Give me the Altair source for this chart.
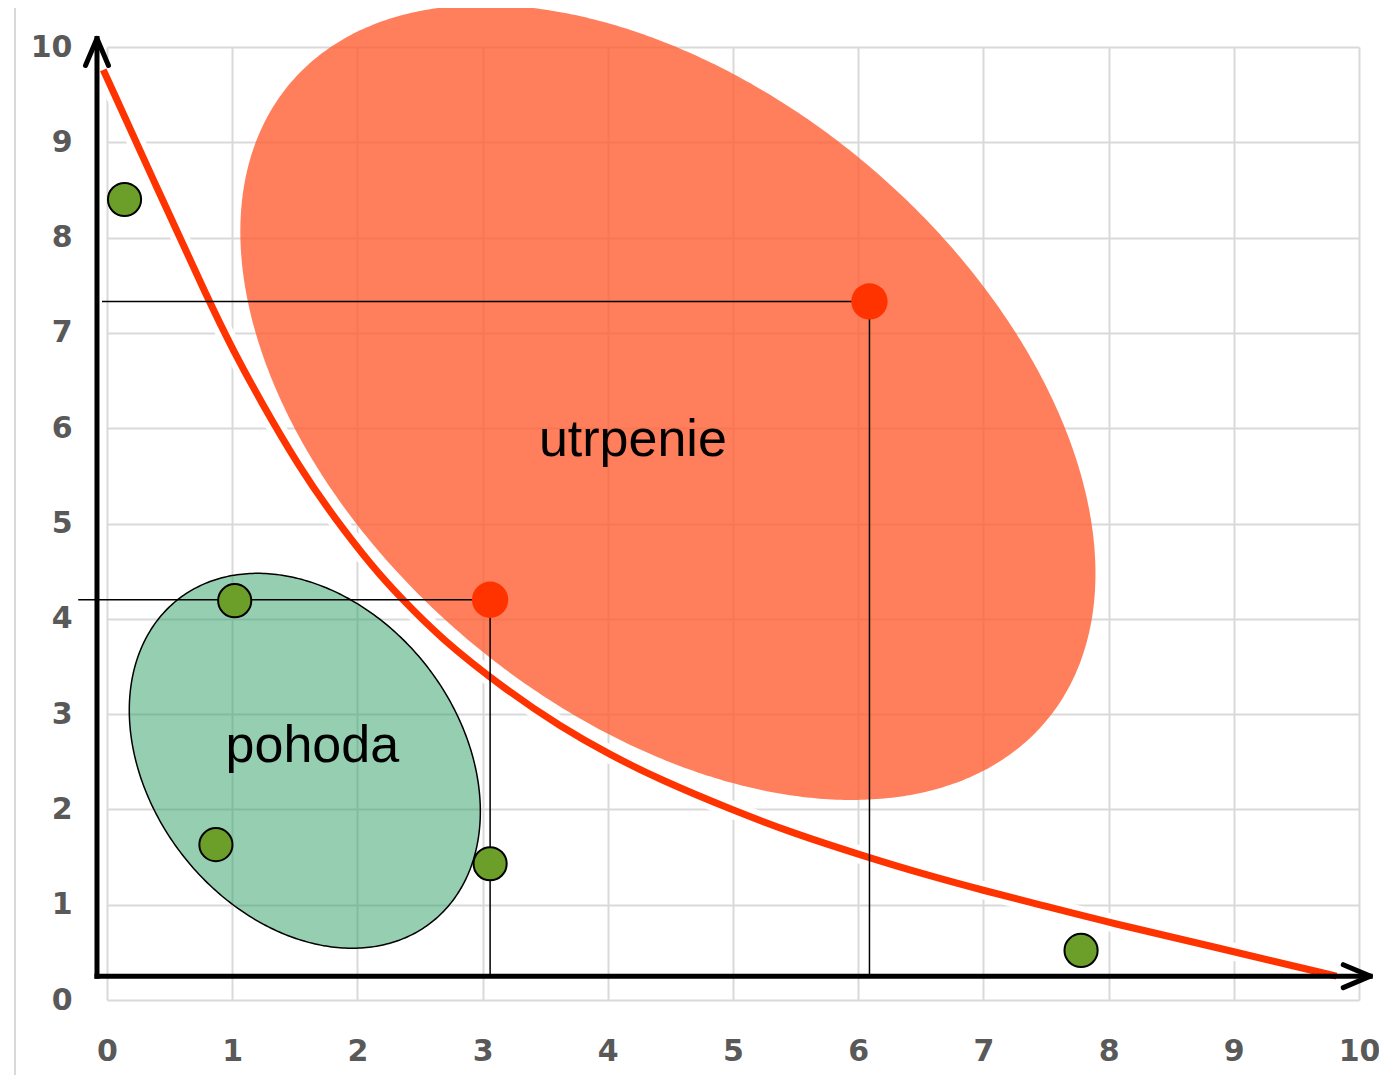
import numpy as np
import pandas as pd
import altair as alt

# ---------------- data ----------------
tick_values = list(range(0, 11))

# red curve
curve_x = [-0.03, 0.40, 0.815, 1.01, 1.22, 1.54, 1.81, 2.13, 2.34, 2.66, 3.19, 3.62,
           4.02, 4.42, 5.00, 5.48, 6.07, 6.55, 7.00, 7.45, 8.01, 8.93, 9.82]
curve_y = [9.76, 8.52, 7.33, 6.81, 6.30, 5.58, 5.07, 4.53, 4.23, 3.80, 3.25, 2.87,
           2.57, 2.31, 1.99, 1.75, 1.50, 1.31, 1.15, 1.00, 0.81, 0.53, 0.25]

# green points
green_x = [0.14, 1.02, 0.87, 3.06, 7.78]
green_y = [8.40, 4.19, 1.63, 1.43, 0.52]

# red points
red_x = [3.06, 6.09]
red_y = [4.20, 7.33]

# thin guide lines (horizontal start x, and they drop to the drawn x-axis)
guide_left_x = [-0.23, -0.04]

# drawn black axes (arrows)
axis_x0 = -0.08
axis_y0 = 0.25
axis_tip = 10.09

# ellipses: centre, half-extent in x, half-extent in y, x-offset (fraction) of topmost point
ell_name = ["utrpenie", "pohoda"]
ell_cx = [4.48, 1.58]
ell_cy = [6.27, 2.51]
ell_rx = [3.415, 1.402]
ell_ry = [4.171, 1.967]
ell_top = [-0.43, -0.27]

# region labels
label_text = ["utrpenie", "pohoda"]
label_x = [4.20, 1.64]
label_y = [5.71, 2.50]

# faint frame of the original picture
frame_x = -0.735
frame_top = 10.43
frame_bottom = -0.95
frame_right = 10.6

# ---------------- build tables ----------------
def ellipse_band(i, n=300):
    phi = np.arccos(ell_top[i])
    t = np.linspace(0, np.pi, n)
    return pd.DataFrame({
        "x": ell_cx[i] + ell_rx[i] * np.cos(t),
        "y1": ell_cy[i] + ell_ry[i] * np.cos(t - phi),
        "y2": ell_cy[i] + ell_ry[i] * np.cos(t + phi),
    })

def ellipse_outline(i, n=400):
    phi = np.arccos(ell_top[i])
    t = np.linspace(0, 2 * np.pi, n)
    return pd.DataFrame({
        "x": ell_cx[i] + ell_rx[i] * np.cos(t),
        "y": ell_cy[i] + ell_ry[i] * np.cos(t - phi),
        "o": np.arange(n),
    })

curve_df = pd.DataFrame({"x": curve_x, "y": curve_y})
green_df = pd.DataFrame({"x": green_x, "y": green_y})
red_df = pd.DataFrame({"x": red_x, "y": red_y})
hguide_df = pd.DataFrame({"x": guide_left_x, "x2": red_x, "y": red_y})
vguide_df = pd.DataFrame({"x": red_x, "y": red_y, "y2": [axis_y0] * len(red_x)})
axis_h_df = pd.DataFrame({"x": [axis_x0], "x2": [axis_tip], "y": [axis_y0]})
axis_v_df = pd.DataFrame({"x": [axis_x0], "y": [axis_y0], "y2": [axis_tip]})
arrow_df = pd.DataFrame({"x": [axis_x0, axis_tip], "y": [axis_tip, axis_y0], "a": [0, 90]})
label_df = pd.DataFrame({"t": label_text, "x": label_x, "y": label_y})
frame_v_df = pd.DataFrame({"x": [frame_x], "y": [frame_bottom], "y2": [frame_top]})
frame_h_df = pd.DataFrame({"x": [frame_x], "x2": [frame_right], "y": [frame_top]})

xscale = alt.Scale(domain=[0, 10], nice=False, zero=False)
yscale = alt.Scale(domain=[0, 10], nice=False, zero=False)
X = alt.X("x:Q", scale=xscale, axis=alt.Axis(values=tick_values, title=None))
Y = alt.Y("y:Q", scale=yscale, axis=alt.Axis(values=tick_values, title=None))

frame_v = alt.Chart(frame_v_df).mark_rule(color="#D9D9D9", strokeWidth=2).encode(
    x=X, y=Y, y2="y2:Q")
frame_h = alt.Chart(frame_h_df).mark_rule(color="#E3E3E3", strokeWidth=2).encode(
    x=X, x2="x2:Q", y=Y)

orange = alt.Chart(ellipse_band(0)).mark_area(color="#FF5A2D", opacity=0.78).encode(
    x=X, y=alt.Y("y1:Q", scale=yscale, axis=alt.Axis(values=tick_values, title=None)),
    y2="y2:Q")

green_fill = alt.Chart(ellipse_band(1)).mark_area(color="#2E9E66", opacity=0.5).encode(
    x=X, y=alt.Y("y1:Q", scale=yscale, axis=alt.Axis(values=tick_values, title=None)),
    y2="y2:Q")
green_edge = alt.Chart(ellipse_outline(1)).mark_line(color="black", strokeWidth=1.5).encode(
    x=X, y=Y, order="o:Q")

halo = alt.Chart(curve_df).mark_line(color="white", strokeWidth=18, interpolate="basis").encode(
    x=X, y=Y)
curve = alt.Chart(curve_df).mark_line(color="#FF3300", strokeWidth=7, interpolate="basis").encode(
    x=X, y=Y)

hguide = alt.Chart(hguide_df).mark_rule(color="black", strokeWidth=1.5).encode(
    x=X, x2="x2:Q", y=Y)
vguide = alt.Chart(vguide_df).mark_rule(color="black", strokeWidth=1.5).encode(
    x=X, y=Y, y2="y2:Q")

axis_h = alt.Chart(axis_h_df).mark_rule(color="black", strokeWidth=5, strokeCap="square").encode(
    x=X, x2="x2:Q", y=Y)
axis_v = alt.Chart(axis_v_df).mark_rule(color="black", strokeWidth=5, strokeCap="square").encode(
    x=X, y=Y, y2="y2:Q")
arrows = alt.Chart(arrow_df).mark_point(
    shape="M -0.85 2 L 0 0 L 0.85 2", filled=False, stroke="black", strokeWidth=5,
    size=729, strokeCap="round", strokeJoin="round", opacity=1).encode(
    x=X, y=Y, angle=alt.Angle("a:Q", scale=None))

green_pts = alt.Chart(green_df).mark_point(
    shape="circle", filled=True, fill="#6B9F2A", stroke="black", strokeWidth=2,
    size=1100, opacity=1).encode(x=X, y=Y)
red_pts = alt.Chart(red_df).mark_point(
    shape="circle", filled=True, fill="#FF3300", strokeWidth=0, size=1320, opacity=1).encode(
    x=X, y=Y)

labels = alt.Chart(label_df).mark_text(
    font="Liberation Sans", fontSize=52, color="black", baseline="alphabetic", align="center").encode(
    x=X, y=Y, text="t:N")

chart = alt.layer(
    frame_v, frame_h, orange, green_fill, green_edge, halo, curve,
    hguide, vguide, axis_h, axis_v, arrows, green_pts, red_pts, labels
).properties(
    width=1252, height=953,
    padding={"left": 99, "top": 39, "right": 20, "bottom": 75},
    autosize=alt.AutoSizeParams(type="none"),
    background="white",
).configure_view(stroke=None).configure_axis(
    grid=True, gridColor="#D9D9D9", gridWidth=2, domain=False, ticks=False, tickSize=0,
    labelFont="DejaVu Sans", labelFontWeight="bold", labelFontSize=30, labelColor="#595959",
    labelFlush=False, labelOverlap=False,
).configure_axisX(labelPadding=36).configure_axisY(labelPadding=35)

chart.save("out.html", embed_options={"renderer": "svg", "actions": False})
